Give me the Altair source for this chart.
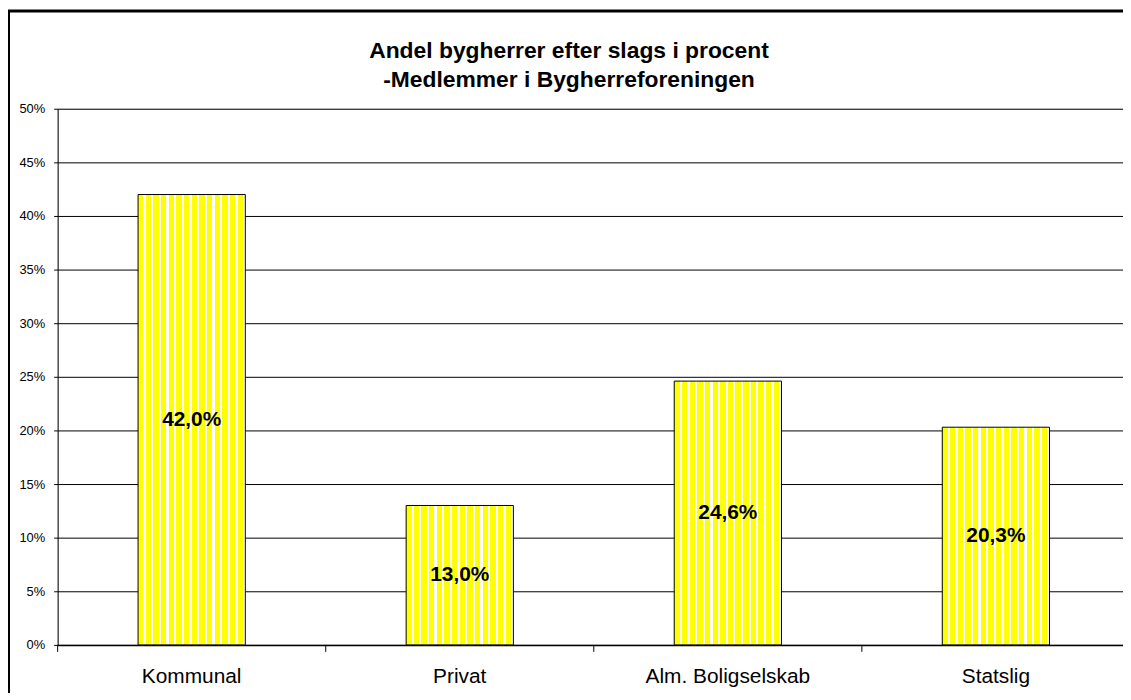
import altair as alt
import pandas as pd

categories = ["Kommunal", "Privat", "Alm. Boligselskab", "Statslig"]
shares = [0.420, 0.130, 0.246, 0.203]
y_ticks = [0, 0.05, 0.10, 0.15, 0.20, 0.25, 0.30, 0.35, 0.40, 0.45, 0.50]
title_lines = ["Andel bygherrer efter slags i procent", "-Medlemmer i Bygherreforeningen"]

FONT = "Liberation Sans"

df = pd.DataFrame({"kategori": categories, "andel": shares})
one_row = pd.DataFrame({"f": [0]})

# vertical stripe fill (yellow with thin white lines)
n_stripes = 14
yellow_frac = 0.7
stops = []
for i in range(n_stripes):
    a = i / n_stripes
    b = (i + yellow_frac) / n_stripes
    c = (i + 1) / n_stripes
    stops += [
        alt.GradientStop(color="#FFFF00", offset=a),
        alt.GradientStop(color="#FFFF00", offset=b),
        alt.GradientStop(color="#FFFFFF", offset=b),
        alt.GradientStop(color="#FFFFFF", offset=c),
    ]
stripes = alt.Gradient(gradient="linear", stops=stops, x1=0, x2=1, y1=0, y2=0)

x_scale = alt.Scale(range=[0, 1080], paddingInner=0, paddingOuter=0)
x_enc = alt.X(
    "kategori:N",
    sort=categories,
    scale=x_scale,
    axis=alt.Axis(
        title=None, labelAngle=0, ticks=False, grid=False,
        domainColor="black", domainWidth=1.5,
        labelFont=FONT, labelFontSize=21, labelColor="black", labelPadding=21,
    ),
)
y_scale = alt.Scale(domain=[0, 0.5], nice=False)

base = alt.Chart(df)

bars = base.mark_bar(
    width=alt.RelativeBandSize(band=0.4), fill=stripes, stroke="black", strokeWidth=1
).encode(
    x=x_enc,
    y=alt.Y(
        "andel:Q",
        scale=y_scale,
        axis=alt.Axis(
            values=y_ticks, format=".0%", title=None, grid=True,
            gridColor="black", gridWidth=1, domainColor="black",
            tickColor="black", tickSize=4,
            labelFont=FONT, labelFontSize=13, labelColor="black", labelPadding=9,
        ),
    ),
)

labels = base.transform_calculate(
    mid="datum.andel / 2",
    label="replace(format(datum.andel, '.1%'), '.', ',')",
).mark_text(
    font=FONT, fontSize=21, fontWeight="bold", color="black", baseline="middle"
).encode(
    x=alt.X("kategori:N", sort=categories),
    y=alt.Y("mid:Q"),
    text="label:N",
)

xticks = base.mark_rule(color="black", strokeWidth=1).encode(
    x=alt.X("kategori:N", sort=categories, bandPosition=0),
    y=alt.value(540),
    y2=alt.value(547),
)

frame = alt.Chart(one_row).mark_rect(
    fillOpacity=0, stroke="black", strokeWidth=3
).encode(
    x=alt.value(-49.5), x2=alt.value(1200),
    y=alt.value(-98.5), y2=alt.value(800),
)

title = alt.Chart(one_row).mark_text(
    text=title_lines, font=FONT, fontSize=23, fontWeight="bold", color="black",
    align="center", baseline="alphabetic", lineHeight=29,
).encode(
    x=alt.value(515), y=alt.value(-51),
)

chart = alt.layer(bars, labels, xticks, frame, title).properties(
    width=1073,
    height=540,
    autosize=alt.AutoSizeParams(type="none"),
    padding={"left": 50, "top": 99, "right": 0, "bottom": 46},
).configure_view(stroke=None).configure(background="white")

chart.save("out.html", embed_options={"renderer": "svg", "actions": False})
